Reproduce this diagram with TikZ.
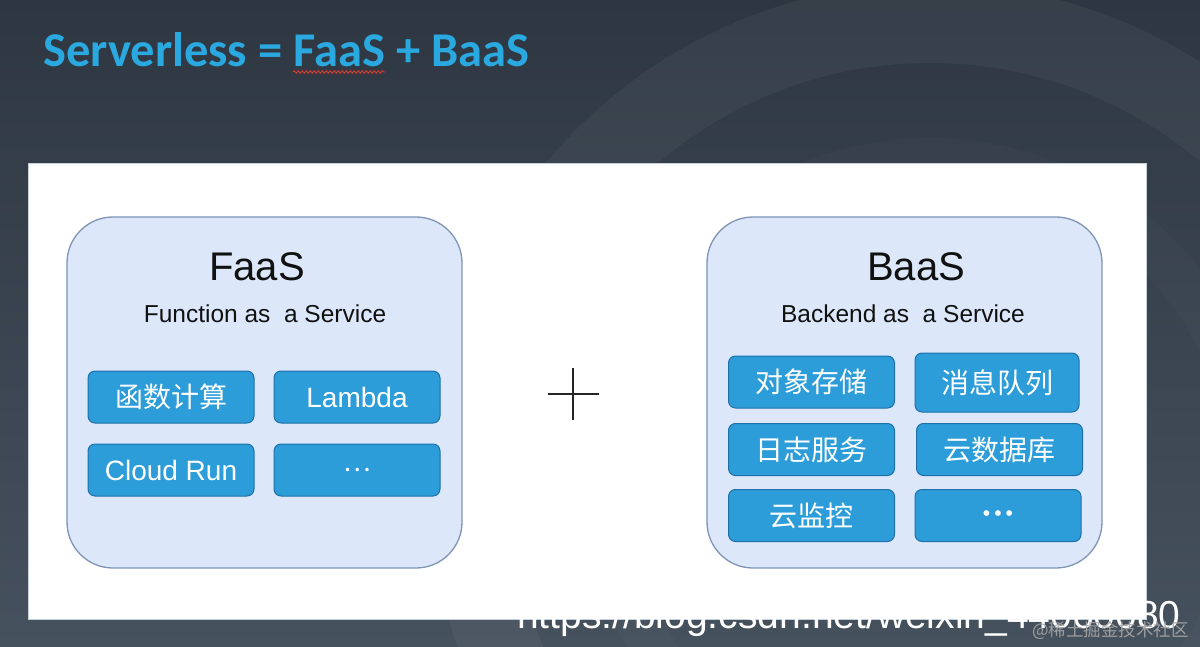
\documentclass[tikz,border=0pt]{standalone}
\usepackage{fontspec}
\setmainfont{Liberation Sans}
\newfontfamily\cjk{Noto Sans CJK SC}
\newfontfamily\titlefont{Carlito}
\usetikzlibrary{decorations.pathmorphing}
\definecolor{bgtop}{HTML}{2E3741}
\definecolor{bgbot}{HTML}{46515E}
\definecolor{titleblue}{HTML}{2AA8E0}
\definecolor{outerfill}{HTML}{DCE8FA}
\definecolor{outerborder}{HTML}{7F94B4}
\definecolor{itemfill}{HTML}{2C9DD9}
\definecolor{itemborder}{HTML}{1F70A8}
\definecolor{inktext}{HTML}{111111}
\definecolor{squig}{HTML}{D83A30}
\definecolor{paneledge}{HTML}{C5D0DA}
\tikzset{
  outerbox/.style={draw=outerborder, line width=1.3pt, fill=outerfill, rounded corners=46pt,
    minimum width=395pt, minimum height=351pt, inner sep=0pt},
  itembox/.style={draw=itemborder, line width=1pt, fill=itemfill, rounded corners=7pt,
    minimum width=166pt, minimum height=52pt, inner sep=0pt, text=white,
    font=\fontsize{28}{32}\selectfont},
  bigtitle/.style={anchor=base, text=inktext, font=\fontsize{40}{46}\selectfont},
  subtitle/.style={anchor=base, text=inktext, font=\fontsize{24.5}{28}\selectfont},
  plusline/.style={draw=black!85, line width=1.8pt}
}
\begin{document}
\begin{tikzpicture}[x=1pt,y=-1pt]
\useasboundingbox (0,0) rectangle (1200,647);
% background
\shade[top color=bgtop, bottom color=bgbot] (0,0) rectangle (1200,647);
\fill[white, opacity=0.045, even odd rule] (930,483) circle[radius=500pt] (930,483) circle[radius=420pt];
\fill[white, opacity=0.02, even odd rule] (930,483) circle[radius=345pt] (930,483) circle[radius=300pt];
% title
\node[anchor=base west, inner sep=0pt, text=titleblue,
  font=\titlefont\bfseries\fontsize{48.5}{58}\selectfont] (title) at (43,67) {Serverless = FaaS + BaaS};
\draw[squig, line width=0.9pt, decorate, decoration={snake, segment length=4pt, amplitude=1.3pt}]
  (293,72) -- (385,72);
% white panel
\node[draw=paneledge, line width=0.6pt, fill=white, minimum width=1118pt, minimum height=456pt,
  inner sep=0pt] (panel) at (587,391) {};
% FaaS
\node[outerbox] (faas) at (264.5,392.5) {};
\node[bigtitle] (faast) at (257,280) {FaaS};
\node[subtitle] (faass) at (265,323) {Function as\ \ a Service};
\node[itembox] (f1) at (171,397) {\cjk 函数计算};
\node[itembox] (f2) at (357,397) {Lambda};
\node[itembox] (f3) at (171,470) {Cloud Run};
\node[itembox] (f4) at (357,470) {\raisebox{-3pt}{\cjk\fontsize{26}{30}\selectfont …}};
% plus
\coordinate (pl) at (548,394);
\coordinate (pr) at (599,394);
\coordinate (pt) at (573,368);
\coordinate (pb) at (573,420);
\draw[plusline] (pl) -- (pr);
\draw[plusline] (pt) -- (pb);
% BaaS
\node[outerbox] (baas) at (904.5,392.5) {};
\node[bigtitle] (baast) at (916,280) {BaaS};
\node[subtitle] (baass) at (903,323) {Backend as\ \ a Service};
\node[itembox] (b1) at (811.5,382) {\cjk 对象存储};
\node[itembox, minimum width=164pt, minimum height=59pt] (b2) at (997,382.5) {\cjk 消息队列};
\node[itembox] (b3) at (811.5,449.5) {\cjk 日志服务};
\node[itembox] (b4) at (999.5,449.5) {\cjk 云数据库};
\node[itembox] (b5) at (811.5,515.5) {\cjk 云监控};
\node[itembox, font=\fontsize{21}{24}\selectfont] (b6) at (998,515.5) {•\hspace{4pt}•\hspace{4pt}•};
% watermark
\node[anchor=base west, inner sep=0pt, text=white, font=\fontsize{39}{45}\selectfont] (wm) at (517,628)
  {https://blog.csdn.net/weixin\_44060080};
\node[anchor=base west, inner sep=0pt, text=gray!70, opacity=0.9, font=\cjk\fontsize{17.5}{20}\selectfont] (wm2) at (1032,636)
  {@稀土掘金技术社区};
\end{tikzpicture}
\end{document}
